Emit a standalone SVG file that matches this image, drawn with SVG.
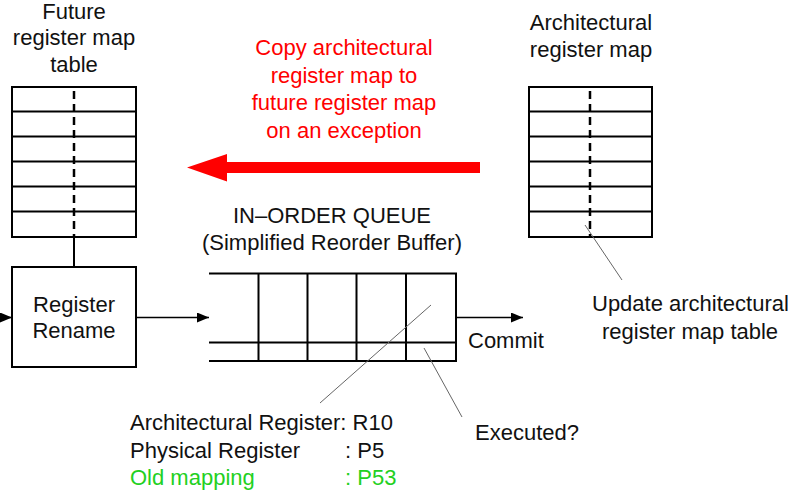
<svg xmlns="http://www.w3.org/2000/svg" width="788" height="491" viewBox="0 0 788 491">
<defs>
<style>
text{font-family:"Liberation Sans",Arial,sans-serif;font-size:22px;fill:#111}
.c{text-anchor:middle}
.red{fill:#ff0000}
.green{fill:#22d022}
.box{fill:#fff;stroke:#000;stroke-width:2}
.ln{stroke:#000;stroke-width:2;fill:none}
.dash{stroke:#000;stroke-width:2.5;stroke-dasharray:8,5;fill:none}
.conn{stroke:#000;stroke-width:1.5;fill:none}
.lead{stroke:#666;stroke-width:1;fill:none}
</style>
<marker id="ah" viewBox="0 0 12 10" refX="12" refY="5" markerWidth="12" markerHeight="10" markerUnits="userSpaceOnUse" orient="auto">
<path d="M0,0 L12,5 L0,10 Z" fill="#000"/>
</marker>
</defs>

<g id="future-table">
<rect class="box" x="12" y="87" width="124" height="150"/>
<path class="ln" d="M12,111.5H136M12,136.5H136M12,161.5H136M12,186.5H136M12,211.5H136"/>
<line class="dash" x1="74" y1="91" x2="74" y2="237"/>
<text class="c" x="74" y="18.5">Future</text>
<text class="c" x="74" y="45">register map</text>
<text class="c" x="74" y="72">table</text>
</g>

<g id="arch-table">
<rect class="box" x="529" y="87" width="123" height="150"/>
<path class="ln" d="M529,111.5H652M529,136.5H652M529,161.5H652M529,186.5H652M529,211.5H652"/>
<line class="dash" x1="590" y1="91" x2="590" y2="237"/>
<text class="c" x="591" y="29.5">Architectural</text>
<text class="c" x="591" y="57">register map</text>
</g>

<g id="copy-note">
<text class="c red" x="344" y="54.5">Copy architectural</text>
<text class="c red" x="344" y="82.5">register map to</text>
<text class="c red" x="344" y="110">future register map</text>
<text class="c red" x="344" y="137.5">on an exception</text>
</g>

<g id="register-rename">
<rect class="box" x="12" y="267" width="124" height="100"/>
<text class="c" x="74" y="312">Register</text>
<text class="c" x="74" y="338">Rename</text>
</g>

<g id="in-order-queue">
<text class="c" x="332" y="223">IN–ORDER QUEUE</text>
<text class="c" x="332" y="250">(Simplified Reorder Buffer)</text>
<path class="ln" d="M209,273.5H456V361H209M209,342.5H456M258.5,273.5V361M307.5,273.5V361M356.5,273.5V361M406,273.5V361"/>
</g>

<g id="labels">
<text x="468" y="348">Commit</text>
<text x="475" y="440">Executed?</text>
<text x="592" y="311">Update architectural</text>
<text x="602" y="338.5">register map table</text>
<text x="130" y="430">Architectural Register: R10</text>
<text x="130" y="457.5">Physical Register</text>
<text x="345" y="457.5">: P5</text>
<text class="green" x="130" y="485">Old mapping</text>
<text class="green" x="345" y="485">: P53</text>
</g>

<g id="connectors">
<line class="ln" x1="74" y1="237" x2="74" y2="267"/>
<line class="conn" x1="0" y1="317.5" x2="12" y2="317.5" marker-end="url(#ah)"/>
<line class="conn" x1="136" y1="317.5" x2="209" y2="317.5" marker-end="url(#ah)"/>
<line class="conn" x1="456" y1="317.5" x2="523" y2="317.5" marker-end="url(#ah)"/>
<path d="M480,162H227V154L187,167.5L227,181.5V173H480Z" fill="#ff0000"/>
<line class="lead" x1="431" y1="305" x2="320" y2="403"/>
<line class="lead" x1="424" y1="348" x2="462" y2="417"/>
<line class="lead" x1="585" y1="225" x2="622" y2="280"/>
</g>
</svg>
